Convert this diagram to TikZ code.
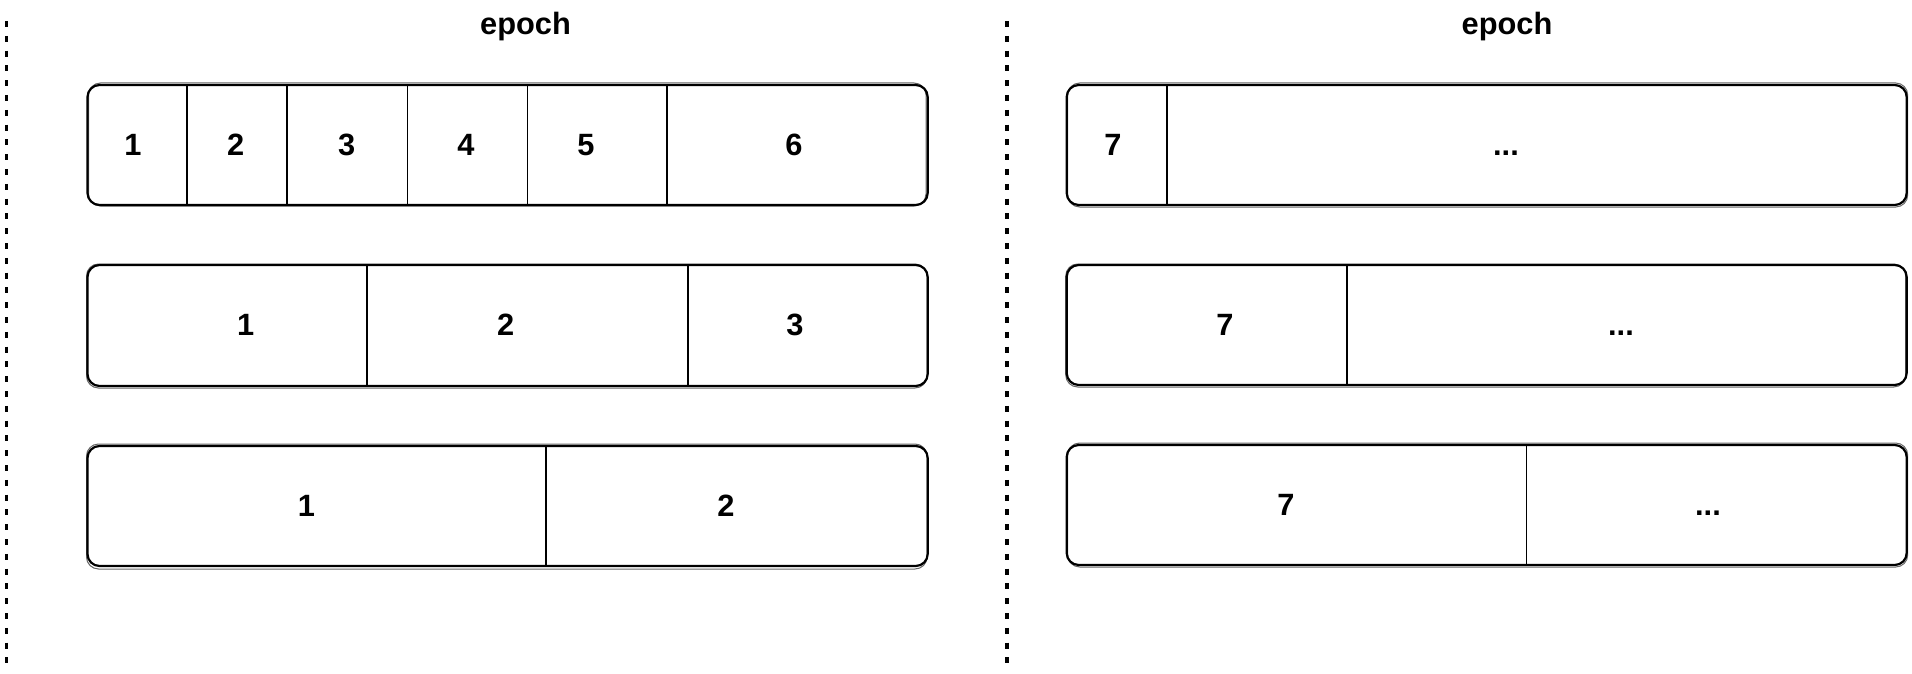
\documentclass[tikz,border=0pt]{standalone}
\usepackage{fontspec}
\setmainfont{Liberation Sans}
\begin{document}
\begin{tikzpicture}[x=0.5pt,y=-0.5pt,
  boxline/.style={draw=black, line width=1.1pt, rounded corners=6pt, line join=round},
  sketch/.style={draw=black, line width=0.5pt, rounded corners=6pt, opacity=0.6},
  divider/.style={draw=black, line width=0.85pt},
  sep/.style={draw=black, line width=1.6pt, dash pattern=on 3pt off 4.4pt},
  lbl/.style={anchor=base, inner sep=0pt, font=\fontsize{15.4}{18}\selectfont\bfseries}]
\useasboundingbox (0,0) rectangle (1912,674);
\fill[white] (0,0) rectangle (1912,674);
% separators
\coordinate (s1t) at (6.7,21); \coordinate (s1b) at (6.7,668);
\coordinate (s2t) at (1007,21); \coordinate (s2b) at (1007,668);
\draw[sep] (s1t) -- (s1b);
\draw[sep] (s2t) -- (s2b);
% titles
\node[lbl] (e1) at (525.5,34.3) {epoch};
\node[lbl] (e2) at (1507,34.3) {epoch};
% left boxes
\draw[boxline] (87.5,85) rectangle (927.7,205);
\draw[sketch] (88.5,83) rectangle (926,206);
\draw[divider] (187.1,85) -- (187.1,205);
\draw[divider] (287.3,85) -- (287.3,205);
\draw[divider] (407.4,85) -- (407.4,205);
\draw[divider] (527.4,85) -- (527.4,205);
\draw[divider] (667,85) -- (667,205);
\node[lbl] (a1) at (133,155.4) {1};
\node[lbl] (a2) at (235.7,155.4) {2};
\node[lbl] (a3) at (346.7,155.4) {3};
\node[lbl] (a4) at (466,155.4) {4};
\node[lbl] (a5) at (586,155.4) {5};
\node[lbl] (a6) at (794,155.4) {6};
\draw[boxline] (87.5,265) rectangle (927.7,386);
\draw[sketch] (86.5,264) rectangle (927,388);
\draw[divider] (367.1,265) -- (367.1,386);
\draw[divider] (687.7,265) -- (687.7,386);
\node[lbl] (b1) at (245.8,335.5) {1};
\node[lbl] (b2) at (505.7,335.5) {2};
\node[lbl] (b3) at (795,335.5) {3};
\draw[boxline] (87.5,446) rectangle (927.7,566);
\draw[sketch] (86.5,444) rectangle (927,569);
\draw[divider] (546,446) -- (546,566);
\node[lbl] (c1) at (306.5,516) {1};
\node[lbl] (c2) at (726,516) {2};
% right boxes
\draw[boxline] (1066.7,85) rectangle (1906.7,205);
\draw[sketch] (1067.7,83) rectangle (1907.7,207);
\draw[divider] (1166.7,85) -- (1166.7,205);
\node[lbl] (d1) at (1113,155.4) {7};
\node[lbl] (d2) at (1506,155.4) {...};
\draw[boxline] (1066.7,265) rectangle (1906.7,385);
\draw[sketch] (1065.7,264) rectangle (1905.7,387);
\draw[divider] (1347,265) -- (1347,385);
\node[lbl] (f1) at (1225,335) {7};
\node[lbl] (f2) at (1621,335) {...};
\draw[boxline] (1066.7,445) rectangle (1906.7,565);
\draw[sketch] (1067.7,443) rectangle (1907.7,567);
\draw[divider] (1526.5,445) -- (1526.5,565);
\node[lbl] (g1) at (1286,515) {7};
\node[lbl] (g2) at (1708,515) {...};
\end{tikzpicture}
\end{document}
